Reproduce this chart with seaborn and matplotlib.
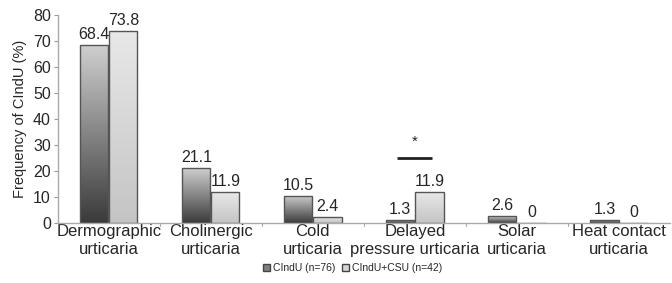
import matplotlib
matplotlib.use("Agg")
import matplotlib.pyplot as plt
import seaborn as sns
import numpy as np
import pandas as pd
from matplotlib.colors import LinearSegmentedColormap
from matplotlib.patches import Patch

categories = ["Dermographic\nurticaria", "Cholinergic\nurticaria", "Cold\nurticaria",
              "Delayed\npressure urticaria", "Solar\nurticaria", "Heat contact\nurticaria"]
series_names = ["CIndU (n=76)", "CIndU+CSU (n=42)"]
cindu = [68.4, 21.1, 10.5, 1.3, 2.6, 1.3]
cindu_csu = [73.8, 11.9, 2.4, 11.9, 0, 0]
yticks = [0, 10, 20, 30, 40, 50, 60, 70, 80]

df = pd.DataFrame({
    "category": categories * 2,
    "series": [series_names[0]] * 6 + [series_names[1]] * 6,
    "value": cindu + cindu_csu,
})

sns.set_style("white")
plt.rcParams['font.family'] = ['Liberation Sans', 'DejaVu Sans']

fig = plt.figure(figsize=(6.72, 2.83), dpi=100)
ax = fig.add_axes([0.086, 0.212, 0.911, 0.735])

sns.barplot(data=df, x="category", y="value", hue="series", ax=ax,
            palette=["#707070", "#d6d6d6"], width=0.57, gap=0.03,
            edgecolor="#555555", linewidth=1.0, legend=False)

ax.set_ylim(0, 80)
ax.set_xlim(-0.5, 5.5)
ax.set_yticks(yticks)
ax.tick_params(axis="y", labelsize=11.5, length=3, color="#999999", pad=2, direction="out", left=True)
ax.tick_params(axis="x", labelsize=12, length=0, pad=1)
ax.set_ylabel("Frequency of CIndU (%)", fontsize=10.5, labelpad=4)
ax.set_xlabel("")
for s in ["top", "right"]:
    ax.spines[s].set_visible(False)
for s in ["left", "bottom"]:
    ax.spines[s].set_color("#aaaaaa")
    ax.spines[s].set_linewidth(1.0)

for xb in np.arange(0.5, 5.5, 1.0):
    ax.plot([xb, xb], [0, -1.2], color="#aaaaaa", lw=0.8, clip_on=False)

cm_dark = LinearSegmentedColormap.from_list("d", ["#3a3a3a", "#cfcfcf"])
cm_light = LinearSegmentedColormap.from_list("l", ["#c4c4c4", "#e8e8e8"])
grad = np.linspace(0, 1, 256).reshape(-1, 1)
containers = ax.containers
for cont, cmap in zip(containers, [cm_dark, cm_light]):
    for p in cont.patches:
        x0, y0 = p.get_x(), p.get_y()
        w, h = p.get_width(), p.get_height()
        if h <= 0:
            continue
        im = ax.imshow(grad, extent=[x0, x0 + w, y0, y0 + h], origin="lower",
                       aspect="auto", cmap=cmap, zorder=p.get_zorder() - 0.01)
        im.set_clip_path(p)
        p.set_facecolor("none")
ax.set_xlim(-0.5, 5.5)
ax.set_ylim(0, 80)

for cont in containers:
    ax.bar_label(cont, labels=[f"{v:g}" for v in cont.datavalues], fontsize=11.5, padding=2)

# significance marker
ax.plot([2.82, 3.17], [25, 25], color="#222222", lw=2, solid_capstyle="butt")
ax.text(2.995, 28.5, "*", ha="center", va="bottom", fontsize=11)

handles = [Patch(facecolor="#808080", edgecolor="#444444"),
           Patch(facecolor="#d6d6d6", edgecolor="#444444")]
fig.legend(handles, series_names, loc="center", bbox_to_anchor=(0.525, 0.052),
           ncol=2, frameon=False, fontsize=7.5, handlelength=0.7, handleheight=0.7,
           handletextpad=0.3, columnspacing=0.6)

fig.savefig("out.png", dpi=100)
